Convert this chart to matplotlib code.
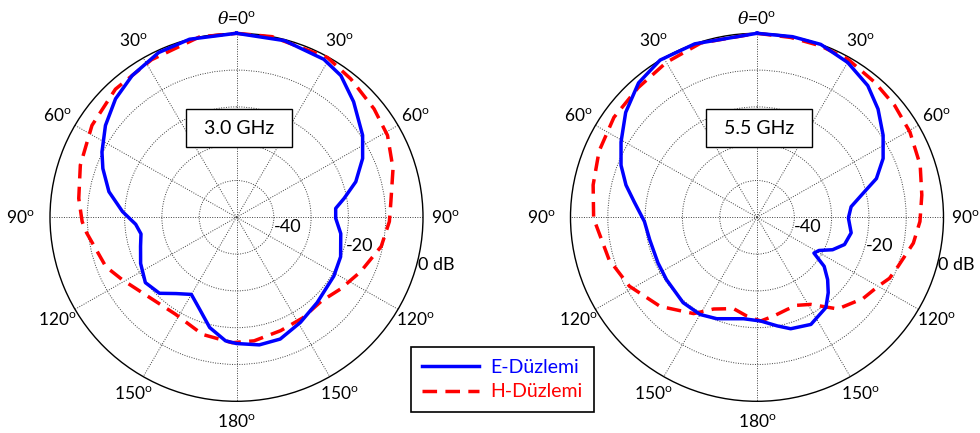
import numpy as np
import matplotlib
matplotlib.use("Agg")
import matplotlib.pyplot as plt
from matplotlib.lines import Line2D
from matplotlib.patches import Rectangle

plt.rcParams['font.family'] = ['Lato', 'DejaVu Sans']
plt.rcParams['mathtext.fontset'] = 'custom'
plt.rcParams['mathtext.rm'] = 'Lato'
plt.rcParams['mathtext.it'] = 'DejaVu Serif:italic'

# ---------------- data (angle in degrees, clockwise from top; level in dB) ----------------
ang_e30 = [0, 15, 28.6, 36, 45, 56.6, 64.7, 73.2, 79.9, 84.8, 90.6, 99, 111, 121.5, 137, 149,
           160.5, 170, 180, 185, 193.5, 201.5, 210, 218, 225, 234, 244, 253, 260, 266, 272.9,
           281.5, 290.3, 296.2, 305.4, 314.8, 324, 335, 345.4]
db_e30 = [0.0, -0.3, -1.1, -2.4, -5.6, -9.5, -12.6, -16.6, -20.7, -23.3, -23.4, -21.7, -20.1,
          -19.4, -18.3, -16.7, -14.9, -14.8, -15.7, -16.3, -19.2, -23.1, -25.8, -23.7, -20.8,
          -19.8, -21.4, -23.1, -24.0, -22.9, -19.4, -15.1, -11.8, -9.8, -6.9, -4.3, -2.4, -0.6,
          0.0]

ang_h30 = [0, 11, 29.3, 39.2, 51.4, 61.2, 72.5, 84.2, 91.6, 101.5, 114, 125, 135, 147, 159,
           172, 182, 196, 212, 229, 241, 249, 264, 268.4, 276.9, 288.7, 302.8, 317, 332, 348.5]
db_h30 = [0.0, 0.0, -0.2, -1.5, -2.8, -3.8, -6.0, -8.4, -9.0, -10.4, -13.6, -16.0, -17.8,
          -17.4, -17.0, -16.1, -15.9, -16.9, -19.0, -17.8, -15.0, -12.5, -9.6, -8.6, -7.4,
          -5.8, -3.9, -2.4, -1.5, 0.0]

ang_e55 = [0, 11, 20, 30, 39.7, 47.8, 56.6, 64.7, 71.8, 76.5, 83.5, 90.4, 99.5, 107.5, 113.5,
           118.5, 122.5, 126.5, 131.8, 137, 143, 153.6, 163.4, 169.6, 178, 187.4, 201.4, 210,
           220.5, 235, 245, 258, 267.8, 277.3, 284, 291.2, 299.3, 309, 319, 328.7, 340.5]
db_e55 = [0.0, 0.0, 0.0, -1.4, -3.5, -6.2, -9.5, -12.6, -16.3, -20.4, -24.6, -25.5, -24.4,
          -25.4, -27.9, -31.1, -31.9, -27.6, -24.6, -22.0, -19.3, -17.5, -18.4, -20.0, -21.8,
          -22.2, -20.4, -19.5, -19.5, -20.4, -20.7, -20.6, -19.8, -16.8, -13.8, -10.9, -8.2,
          -4.7, -1.6, 0.0, 0.0]

ang_h55 = [0, 10.5, 20, 29.5, 40.7, 50.6, 60.5, 72, 82.2, 91.5, 99.5, 109.4, 115, 120, 127.8,
           139, 148.7, 155.9, 162, 170.5, 178, 185.7, 194.2, 205, 213, 227, 241.3, 253.8, 269.6,
           281.3, 293, 305.3, 317.9, 330, 342.4]
db_h55 = [0.0, -0.3, -0.4, -0.6, -1.6, -2.2, -2.9, -4.0, -5.4, -6.3, -7.5, -9.9, -10.8, -12.5,
          -14.0, -17.0, -22.3, -23.8, -23.7, -22.8, -21.8, -23.0, -24.4, -22.5, -18.8, -14.5,
          -11.0, -8.7, -6.2, -5.2, -4.0, -3.0, -2.5, -1.4, -0.3]

theta_ticks = [0, 30, 60, 90, 120, 150, 180, 210, 240, 270, 300, 330]
theta_labels = ["0", "30", "60", "90", "120", "150", "180", "150", "120", "90", "60", "30"]
r_ticks = [-40, -30, -20, -10]
r_labels = {-40: "-40", -20: "-20", 0: "0 dB"}
freq_labels = ["3.0 GHz", "5.5 GHz"]
legend_labels = ["E-Düzlemi", "H-Düzlemi"]

RMIN, RMAX = -50, 0

fig = plt.figure(figsize=(9.8, 4.33), dpi=100)

W, H = 980.0, 433.0
RX, RY = 186.5, 184.0
centers = [(236.5, 217.3), (757.0, 217.3)]
curves = [((ang_e30, db_e30), (ang_h30, db_h30)), ((ang_e55, db_e55), (ang_h55, db_h55))]

def px_to_r(px):
    return px / 185.0 * (RMAX - RMIN) + RMIN

DEG = r"$^{\mathrm{o}}$"

for (cx, cy), (e, h), flab in zip(centers, curves, freq_labels):
    ax = fig.add_axes([(cx - RX) / W, (H - cy - RY) / H, 2 * RX / W, 2 * RY / H], projection='polar')
    ax.set_aspect('auto')
    ax.set_theta_zero_location('N')
    ax.set_theta_direction(-1)
    ax.set_rlim(RMIN, RMAX)
    ax.set_rticks(r_ticks)
    ax.set_yticklabels([])
    ax.set_thetagrids(theta_ticks, labels=[''] * len(theta_ticks))
    ax.grid(True, linestyle=(0, (1, 1.5)), color='0.25', linewidth=0.7)
    ax.spines['polar'].set_linewidth(1.0)
    ax.spines['polar'].set_color('black')
    ax.tick_params(length=0)
    ax.set_facecolor('white')

    ea = np.deg2rad(np.append(e[0], e[0][0] + 360))
    ed = np.append(e[1], e[1][0])
    ha_ = np.deg2rad(np.append(h[0], h[0][0] + 360))
    hd = np.append(h[1], h[1][0])
    ax.plot(ea, ed, color='#0000ff', lw=2.5, solid_joinstyle='round', zorder=5, clip_on=False)
    ax.plot(ha_, hd, color='#ff0000', lw=2.5, dashes=(4.2, 2.4), zorder=4, clip_on=False)

    # angle labels
    for t, lab in zip(theta_ticks, theta_labels):
        if t == 0:
            txt = r"$\theta$=0" + DEG
            rp = 200
        else:
            txt = lab + DEG
            rp = {90: 207, 270: 214}.get(t, 205)
        ax.text(np.deg2rad(t), px_to_r(rp), txt, ha='center', va='center', fontsize=12.5,
                clip_on=False)

    # radial labels
    for val, lab in r_labels.items():
        ax.text(np.deg2rad(105), val + 0.3, lab, ha='left', va='center', fontsize=13,
                clip_on=False, zorder=6)

    # frequency box
    bx0, bx1, by0, by1 = cx - 50.7, cx + 55.3, 109, 147
    fig.patches.append(Rectangle((bx0 / W, 1 - by1 / H), (bx1 - bx0) / W, (by1 - by0) / H,
                                 transform=fig.transFigure, facecolor='white',
                                 edgecolor='black', lw=1.0, zorder=10))
    fig.text((bx0 + bx1) / 2 / W, 1 - 128 / H, flab, ha='center', va='center',
             fontsize=14, zorder=11)

handles = [Line2D([], [], color='#0000ff', lw=2.5),
           Line2D([], [], color='#ff0000', lw=2.5, dashes=(4.2, 2.4))]
leg = fig.legend(handles, legend_labels, loc='center', bbox_to_anchor=(502.5 / W, 1 - 379.5 / H),
                 fontsize=14, frameon=True, fancybox=False, edgecolor='black', framealpha=1,
                 labelcolor=['#0000ff', '#ff0000'], handlelength=2.9, handletextpad=0.6,
                 borderpad=0.6, labelspacing=0.4, borderaxespad=0)
leg.get_frame().set_linewidth(1.2)

fig.savefig("out.png", dpi=100)
